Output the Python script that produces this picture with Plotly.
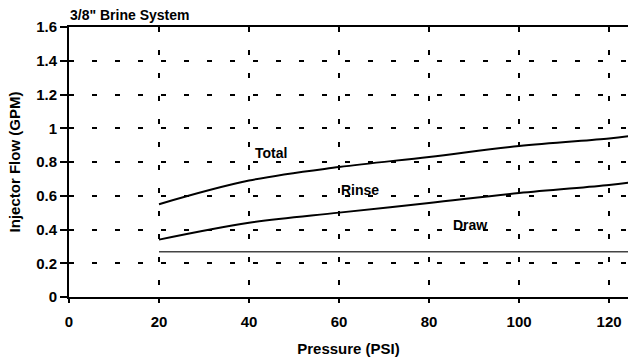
import plotly.graph_objects as go

pressure = [20, 40, 60, 80, 100, 120, 125]
total = [0.55, 0.69, 0.77, 0.83, 0.895, 0.94, 0.955]
rinse = [0.34, 0.44, 0.50, 0.557, 0.616, 0.664, 0.68]
draw_x = [20, 125]
draw = [0.268, 0.268]

x_ticks = [0, 20, 40, 60, 80, 100, 120]
y_ticks = [0, 0.2, 0.4, 0.6, 0.8, 1, 1.2, 1.4, 1.6]
y_tick_text = ["0", "0.2", "0.4", "0.6", "0.8", "1", "1.2", "1.4", "1.6"]

FONT = "Liberation Sans"

fig = go.Figure()
fig.add_trace(go.Scatter(x=pressure, y=total, mode="lines", name="Total",
                         line=dict(color="black", width=2, shape="spline")))
fig.add_trace(go.Scatter(x=pressure, y=rinse, mode="lines", name="Rinse",
                         line=dict(color="black", width=2, shape="spline")))
fig.add_trace(go.Scatter(x=draw_x, y=draw, mode="lines", name="Draw",
                         line=dict(color="#444444", width=1.5)))

labels = [("Total", 44.9, 0.853), ("Rinse", 64.7, 0.634), ("Draw", 89.1, 0.427)]
for txt, lx, ly in labels:
    fig.add_annotation(x=lx, y=ly, text=txt, showarrow=False,
                       font=dict(family=FONT, size=14, color="black", weight="bold"))

fig.add_annotation(xref="paper", yref="paper", x=0, y=1, yanchor="bottom", xanchor="left",
                   yshift=2, xshift=-1, text='3/8" Brine System', showarrow=False,
                   font=dict(family=FONT, size=14, color="black", weight="bold"))

fig.update_layout(
    width=628, height=362,
    margin=dict(l=69, r=0, t=27, b=65, autoexpand=False),
    paper_bgcolor="white", plot_bgcolor="white",
    showlegend=False,
    font=dict(family=FONT, color="black"),
)
fig.update_xaxes(
    range=[0, 124.2], tickvals=x_ticks, automargin=False,
    showgrid=True, gridcolor="black", gridwidth=1.5, griddash="5px,18px",
    showline=True, linecolor="black", linewidth=2, mirror=True,
    ticks="outside", ticklen=4, tickwidth=1.5, tickcolor="black",
    ticklabelstandoff=6,
    tickfont=dict(family=FONT, size=15, color="black", weight="bold"),
    title=dict(text="Pressure (PSI)", standoff=14,
               font=dict(family=FONT, size=15, color="black", weight="bold")),
    zeroline=False,
)
fig.update_yaxes(
    range=[0, 1.6], tickvals=y_ticks, ticktext=y_tick_text, automargin=False,
    showgrid=True, gridcolor="black", gridwidth=1.5, griddash="5px,18px",
    showline=True, linecolor="black", linewidth=2,
    ticks="outside", ticklen=7, tickwidth=2, tickcolor="black",
    tickfont=dict(family=FONT, size=15, color="black", weight="bold"),
    title=dict(text="Injector Flow (GPM)", standoff=12,
               font=dict(family=FONT, size=15, color="black", weight="bold")),
    zeroline=True, zerolinecolor="black", zerolinewidth=3,
)

fig.write_html("out.html", config={"displayModeBar": False},
               post_script="document.body.style.margin='0';document.body.style.overflow='hidden';")
